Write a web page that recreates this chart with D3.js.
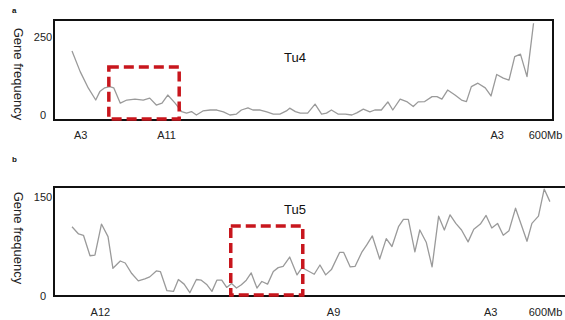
<!DOCTYPE html>
<html><head><meta charset="utf-8">
<script src="https://cdn.jsdelivr.net/npm/d3@7"></script>
<style>body{margin:0;background:#fff}svg{display:block;font-family:"Liberation Sans",Arial,sans-serif}</style>
</head><body><svg id="c" width="565" height="320"></svg>
<script>
// Panel a (Tu4): position (Mb) and gene frequency
const tu4Pos = [22,32,42,51,56,62,68,73,81,89,99,109,117,125,132,139,148,156,162,168,174,182,191,199,207,215,223,229,237,243,252,260,268,276,284,288,295,301,310,319,327,333,339,347,356,364,370,378,386,392,400,408,414,423,431,439,445,453,462,468,474,481,490,498,504,510,518,527,534,541,549,556,563,570,578,586];
const tu4Val = [205,139,86,48,75,87,91,87,38,48,51,48,54,32,38,64,38,11,6,11,0,13,16,16,10,0,3,16,23,16,16,10,3,3,13,22,11,6,6,35,3,6,16,3,3,0,7,19,10,16,16,42,16,51,43,27,42,43,59,59,51,80,64,48,43,91,102,87,61,130,118,112,187,195,123,294];
// Panel b (Tu5)
const tu5Pos = [22,30,36,44,50,58,66,72,81,87,95,103,111,117,125,130,138,146,152,159,166,174,180,187,193,199,205,211,217,223,229,235,241,248,254,261,268,274,280,288,297,303,309,318,325,332,339,349,354,362,368,376,382,389,398,406,413,421,427,433,441,447,455,462,470,477,484,491,498,506,513,521,528,535,542,549,556,564,571,578,584,592,599,606];
const tu5Val = [105,94,92,61,62,109,90,42,53,50,34,23,26,29,38,37,8,7,25,18,5,25,24,17,7,24,24,13,19,12,17,24,35,12,22,18,37,43,45,59,32,43,39,33,47,32,40,66,66,44,45,66,77,91,56,87,75,105,116,116,67,100,81,44,121,100,123,110,100,82,101,109,122,103,110,92,99,133,108,83,110,121,162,143];
// Axis ticks
const aTickPos = [32,137,541,600];
const aTickLab = ["A3","A11","A3","600Mb"];
const bTickPos = [56,341,533,600];
const bTickLab = ["A12","A9","A3","600Mb"];
const aYTicks = [0,250];
const bYTicks = [0,150];
// Highlighted regions [startMb, endMb, topValue]
const aBox = [67,153,154];
const bBox = [216,304,106];

const svg = d3.select("#c");
const x = d3.scaleLinear().domain([0,600]).range([54,545]);

function panel(cfg){
  const g = svg.append("g");
  const y = d3.scaleLinear().domain(cfg.ydom).range(cfg.yrange);
  // frame
  g.append("path")
    .attr("d", cfg.framePath)
    .attr("fill","none").attr("stroke","#111").attr("stroke-width",2);
  // line
  const data = cfg.pos.map((p,i)=>[p,cfg.val[i]]);
  g.append("path").datum(data)
    .attr("fill","none").attr("stroke","#9a9a9a").attr("stroke-width",1.3)
    .attr("stroke-linejoin","round")
    .attr("d", d3.line().x(d=>x(d[0])).y(d=>y(d[1])));
  // highlight box
  g.append("rect")
    .attr("x", x(cfg.box[0])).attr("y", y(cfg.box[2]))
    .attr("width", x(cfg.box[1])-x(cfg.box[0]))
    .attr("height", cfg.boxBottom - y(cfg.box[2]))
    .attr("fill","none").attr("stroke","#c8161d").attr("stroke-width",3.5)
    .attr("stroke-dasharray","10,5");
  // y axis
  const ya = g.append("g").attr("transform","translate(54,0)")
    .call(d3.axisLeft(y).tickValues(cfg.yticks).tickSize(0).tickPadding(0));
  ya.select(".domain").remove();
  ya.selectAll("text").attr("text-anchor","middle").attr("x",-11)
    .style("font-size","11px").attr("fill","#222").attr("font-family","Liberation Sans, Arial, sans-serif");
  // x axis
  const xa = g.append("g").attr("transform",`translate(0,${cfg.xAxisY})`)
    .call(d3.axisBottom(x).tickValues(cfg.xtickPos).tickFormat((d,i)=>cfg.xtickLab[i]).tickSize(0).tickPadding(cfg.xPad));
  xa.select(".domain").remove();
  xa.selectAll("text").style("font-size","11px").attr("fill","#222").attr("font-family","Liberation Sans, Arial, sans-serif");
  // y label
  g.append("text").attr("transform",`translate(${cfg.ylabX},${cfg.ylabY}) rotate(90)`)
    .attr("text-anchor","middle").style("font-size","13px").attr("fill","#222")
    .text("Gene frequency");
  // title
  g.append("text").attr("x",295).attr("y",cfg.titleY).attr("text-anchor","middle")
    .style("font-size","13px").attr("fill","#111").text(cfg.title);
  // panel letter
  g.append("text").attr("x",12).attr("y",cfg.letterY).style("font-size","8px")
    .style("font-weight","bold").attr("fill","#111").text(cfg.letter);
}

panel({pos:tu4Pos,val:tu4Val,ydom:[0,250],yrange:[115,37],yticks:aYTicks,
  framePath:"M54,20H553V120H54Z",box:aBox,boxBottom:119,xAxisY:120,xPad:11,
  xtickPos:aTickPos,xtickLab:aTickLab,ylabX:14,ylabY:74,title:"Tu4",titleY:62,letter:"a",letterY:13});
panel({pos:tu5Pos,val:tu5Val,ydom:[0,150],yrange:[296,197],yticks:bYTicks,
  framePath:"M570,187H54V296H570",box:bBox,boxBottom:295,xAxisY:296,xPad:12,
  xtickPos:bTickPos,xtickLab:bTickLab,ylabX:14,ylabY:238,title:"Tu5",titleY:214,letter:"b",letterY:162});
</script></body></html>
